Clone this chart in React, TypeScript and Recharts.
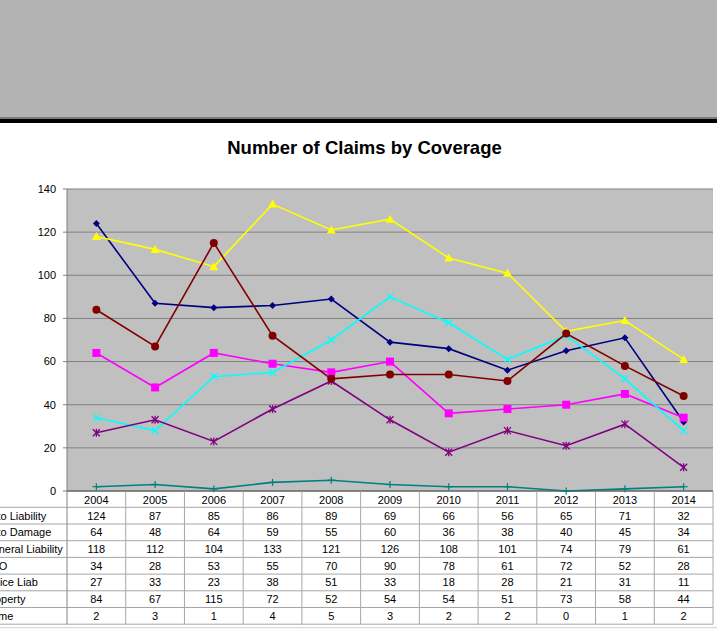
import React from 'react';
import { LineChart, Line, XAxis, YAxis, CartesianGrid } from 'recharts';

const years = ['2004', '2005', '2006', '2007', '2008', '2009', '2010', '2011', '2012', '2013', '2014'];

const autoLiability = [124, 87, 85, 86, 89, 69, 66, 56, 65, 71, 32];
const autoDamage = [64, 48, 64, 59, 55, 60, 36, 38, 40, 45, 34];
const generalLiability = [118, 112, 104, 133, 121, 126, 108, 101, 74, 79, 61];
const eAndO = [34, 28, 53, 55, 70, 90, 78, 61, 72, 52, 28];
const policeLiab = [27, 33, 23, 38, 51, 33, 18, 28, 21, 31, 11];
const property = [84, 67, 115, 72, 52, 54, 54, 51, 73, 58, 44];
const crime = [2, 3, 1, 4, 5, 3, 2, 2, 0, 1, 2];

const yTicks = [0, 20, 40, 60, 80, 100, 120, 140];

const WIDTH = 717;
const HEIGHT = 629;
const PLOT_LEFT = 67;
const PLOT_RIGHT = 713;
const COL_W = (PLOT_RIGHT - PLOT_LEFT) / years.length;
const YEAR_H = 16.3;
const ROW_H = 16.7;
const FONT = 'Arial, "Liberation Sans", sans-serif';

type Shape = 'diamond' | 'square' | 'triangle' | 'x' | 'star' | 'circle' | 'plus';

const series: { key: string; name: string; color: string; values: number[]; shape: Shape }[] = [
  { key: 'autoLiability', name: 'Auto Liability', color: '#000080', values: autoLiability, shape: 'diamond' },
  { key: 'autoDamage', name: 'Auto Damage', color: '#FF00FF', values: autoDamage, shape: 'square' },
  { key: 'generalLiability', name: 'General Liability', color: '#FFFF00', values: generalLiability, shape: 'triangle' },
  { key: 'eAndO', name: 'E&O', color: '#00FFFF', values: eAndO, shape: 'x' },
  { key: 'policeLiab', name: 'Police Liab', color: '#800080', values: policeLiab, shape: 'star' },
  { key: 'property', name: 'Property', color: '#800000', values: property, shape: 'circle' },
  { key: 'crime', name: 'Crime', color: '#008080', values: crime, shape: 'plus' },
];

const data = years.map((year, i) => {
  const row: Record<string, string | number> = { year };
  series.forEach((s) => {
    row[s.key] = s.values[i];
  });
  return row;
});

const makeDot = (shape: Shape, color: string, id: string) => (props: any) => {
  const { cx, cy, index } = props;
  const k = `${id}-${index}`;
  if (cx == null || cy == null) return <g key={k} />;
  switch (shape) {
    case 'diamond':
      return <polygon key={k} points={`${cx},${cy - 3.5} ${cx + 3.5},${cy} ${cx},${cy + 3.5} ${cx - 3.5},${cy}`} fill={color} />;
    case 'square':
      return <rect key={k} x={cx - 4} y={cy - 4} width={8} height={8} fill={color} />;
    case 'triangle':
      return <polygon key={k} points={`${cx},${cy - 4.5} ${cx + 4.5},${cy + 3.5} ${cx - 4.5},${cy + 3.5}`} fill={color} />;
    case 'x':
      return (
        <g key={k} stroke={color} strokeWidth={1.3}>
          <line x1={cx - 3.5} y1={cy - 3.5} x2={cx + 3.5} y2={cy + 3.5} />
          <line x1={cx - 3.5} y1={cy + 3.5} x2={cx + 3.5} y2={cy - 3.5} />
        </g>
      );
    case 'star':
      return (
        <g key={k} stroke={color} strokeWidth={1.3}>
          <line x1={cx - 3.5} y1={cy - 3.5} x2={cx + 3.5} y2={cy + 3.5} />
          <line x1={cx - 3.5} y1={cy + 3.5} x2={cx + 3.5} y2={cy - 3.5} />
          <line x1={cx} y1={cy - 4} x2={cx} y2={cy + 4} />
        </g>
      );
    case 'circle':
      return <circle key={k} cx={cx} cy={cy} r={4} fill={color} />;
    case 'plus':
    default:
      return (
        <g key={k} stroke={color} strokeWidth={1.2}>
          <line x1={cx - 4} y1={cy} x2={cx + 4} y2={cy} />
          <line x1={cx} y1={cy - 3.5} x2={cx} y2={cy + 3.5} />
        </g>
      );
  }
};

// data table drawn under the plot, one column per x tick
const TableTick = (props: any) => {
  const { x, y, payload } = props;
  const i = payload.index;
  const half = COL_W / 2;
  const top = y;
  const rowTop = (r: number) => top + YEAR_H + r * ROW_H;
  const bottom = rowTop(series.length);
  const lineColor = '#a6a6a6';
  return (
    <g fontFamily={FONT} fontSize={11} fill="#000">
      <text x={x} y={top + YEAR_H / 2 + 0.5} dy="0.35em" textAnchor="middle">
        {payload.value}
      </text>
      {series.map((s, r) => (
        <text key={s.key} x={x} y={rowTop(r) + ROW_H / 2} dy="0.35em" textAnchor="middle">
          {s.values[i]}
        </text>
      ))}
      {series.map((s, r) => (
        <line key={`h${r}`} x1={x - half} x2={x + half} y1={rowTop(r)} y2={rowTop(r)} stroke={lineColor} />
      ))}
      <line x1={x - half} x2={x + half} y1={bottom} y2={bottom} stroke={lineColor} />
      <line x1={x + half} x2={x + half} y1={top} y2={bottom} stroke={lineColor} />
      {i === 0 && (
        <g>
          <line x1={x - half} x2={x - half} y1={top} y2={bottom} stroke="#808080" />
          {series.map((s, r) => (
            <g key={`l${r}`}>
              <line x1={0} x2={x - half} y1={rowTop(r)} y2={rowTop(r)} stroke={lineColor} />
              <text x={-16} y={rowTop(r) + ROW_H / 2} dy="0.35em" textAnchor="start">
                {s.name}
              </text>
            </g>
          ))}
          <line x1={0} x2={x - half} y1={bottom} y2={bottom} stroke={lineColor} />
          <line x1={0} x2={WIDTH} y1={bottom + 3.5} y2={bottom + 3.5} stroke="#d0d0d0" />
        </g>
      )}
    </g>
  );
};

export default function App() {
  return (
    <div style={{ position: 'absolute', left: 0, top: 0, width: WIDTH, height: HEIGHT, background: '#fff', overflow: 'hidden' }}>
      <div style={{ position: 'absolute', left: 0, top: 0, width: WIDTH, height: 117, background: '#B3B3B3' }} />
      <div style={{ position: 'absolute', left: 0, top: 117, width: WIDTH, height: 2, background: '#7a7a7a' }} />
      <div style={{ position: 'absolute', left: 0, top: 119, width: WIDTH, height: 4, background: '#000' }} />
      <div
        style={{
          position: 'absolute',
          left: 0,
          top: 139,
          width: 729,
          textAlign: 'center',
          fontFamily: FONT,
          fontWeight: 'bold',
          fontSize: 18.5,
          lineHeight: '18px',
          color: '#000',
        }}
      >
        Number of Claims by Coverage
      </div>
      <div style={{ position: 'absolute', left: 0, top: 0 }}>
        <LineChart width={WIDTH} height={HEIGHT} data={data} margin={{ top: 189, right: WIDTH - PLOT_RIGHT, bottom: 0, left: PLOT_LEFT - 60 }}>
          <CartesianGrid vertical={false} stroke="#808080" fill="#C0C0C0" />
          <XAxis
            dataKey="year"
            height={HEIGHT - 491}
            padding={{ left: COL_W / 2, right: COL_W / 2 }}
            tickLine={false}
            tickSize={0}
            tickMargin={0}
            axisLine={{ stroke: '#555555' }}
            tick={<TableTick />}
            interval={0}
          />
          <YAxis
            domain={[0, 140]}
            ticks={yTicks}
            width={60}
            tickSize={4}
            tickMargin={7}
            axisLine={{ stroke: '#808080' }}
            tickLine={{ stroke: '#808080' }}
            tick={{ fontSize: 11, fontFamily: FONT, fill: '#000' }}
          />
          <YAxis yAxisId="r" orientation="right" width={0} tick={false} tickLine={false} axisLine={{ stroke: '#8c8c8c' }} />
          {series.map((s) => (
            <Line
              key={s.key}
              dataKey={s.key}
              name={s.name}
              stroke={s.color}
              strokeWidth={1.6}
              dot={makeDot(s.shape, s.color, s.key)}
              activeDot={false}
              isAnimationActive={false}
            />
          ))}
        </LineChart>
      </div>
    </div>
  );
}
